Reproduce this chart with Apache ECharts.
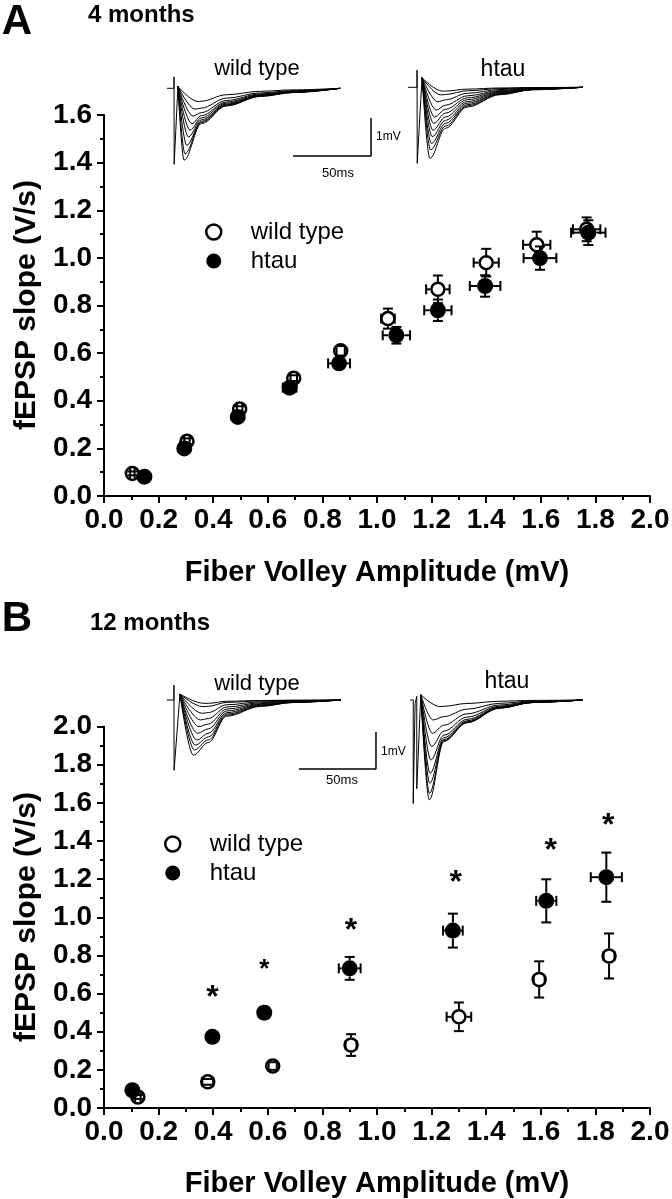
<!DOCTYPE html>
<html><head><meta charset="utf-8">
<script src="https://cdn.jsdelivr.net/npm/echarts@6/dist/echarts.min.js"></script>
<style>html,body{margin:0;padding:0;background:#fff}#c{width:672px;height:1199px}</style>
</head><body><div id="c"></div>
<script>
// ---------- tick labels ----------
const xTickLabels = ['0.0','0.2','0.4','0.6','0.8','1.0','1.2','1.4','1.6','1.8','2.0'];
const yTickLabelsA = ['0.0','0.2','0.4','0.6','0.8','1.0','1.2','1.4','1.6'];
const yTickLabelsB = ['0.0','0.2','0.4','0.6','0.8','1.0','1.2','1.4','1.6','1.8','2.0'];

// ---------- Panel A : 4 months ----------
const aWtX    = [0.104, 0.304, 0.497, 0.695, 0.867, 1.040, 1.223, 1.400, 1.585, 1.768];
const aWtY    = [0.095, 0.230, 0.365, 0.495, 0.610, 0.745, 0.868, 0.980, 1.055, 1.120];
const aWtXErr = [0.008, 0.010, 0.010, 0.012, 0.015, 0.025, 0.043, 0.046, 0.050, 0.050];
const aWtYErr = [0.008, 0.012, 0.012, 0.012, 0.020, 0.042, 0.058, 0.058, 0.055, 0.050];
const aHtX    = [0.148, 0.294, 0.490, 0.680, 0.861, 1.071, 1.223, 1.396, 1.597, 1.774];
const aHtY    = [0.081, 0.200, 0.332, 0.455, 0.557, 0.675, 0.780, 0.882, 0.999, 1.106];
const aHtXErr = [0.008, 0.010, 0.012, 0.025, 0.040, 0.050, 0.050, 0.056, 0.060, 0.063];
const aHtYErr = [0.008, 0.012, 0.015, 0.015, 0.020, 0.035, 0.045, 0.045, 0.049, 0.052];

// ---------- Panel B : 12 months ----------
const bWtX    = [0.124, 0.380, 0.618, 0.905, 1.300, 1.594, 1.850];
const bWtY    = [0.058, 0.137, 0.220, 0.330, 0.478, 0.674, 0.797];
const bWtXErr = [0.010, 0.020, 0.015, 0.020, 0.045, 0.020, 0.020];
const bWtYErr = [0.010, 0.015, 0.020, 0.057, 0.075, 0.095, 0.118];
const bHtX    = [0.104, 0.397, 0.587, 0.900, 1.278, 1.620, 1.840];
const bHtY    = [0.093, 0.373, 0.500, 0.732, 0.930, 1.086, 1.210];
const bHtXErr = [0.010, 0.015, 0.020, 0.040, 0.036, 0.037, 0.057];
const bHtYErr = [0.010, 0.020, 0.030, 0.060, 0.089, 0.113, 0.129];
const starX   = [0.397, 0.587, 0.905, 1.288, 1.636, 1.847];
const starY   = [0.618, 0.755, 0.968, 1.222, 1.390, 1.517];

// ---------- inset traces (time ms, voltage mV) ----------
// A wild type
const tA_wt_art   = [[0,0],[4.5,0],[4.5,0.3],[4.6,-2.0],[7,0.05]];
const tA_wt_amp   = [0.35, 0.55, 0.73, 0.93, 1.10, 1.28, 1.50, 1.72, 1.89];
const tA_wt_peakT = [19.9, 18.0, 16.7, 16.0, 14.7, 13.7, 12.6, 11.5, 10.9];
const tA_wt_late  = [0.34, 0.52, 0.64, 0.72, 0.78, 0.83, 0.87, 0.90, 0.93];
const tA_wt_tL = 22, tA_wt_decT = [0,16,38,59,89], tA_wt_decF = [1,0.5,0.23,0.12,0];
// A htau
const tA_ht_art   = [[0,0],[5.8,0],[5.8,0.45],[5.9,-2.0],[9,0.25]];
const tA_ht_amp   = [0.10, 0.20, 0.38, 0.60, 0.78, 0.95, 1.13, 1.30, 1.48, 1.65, 1.87];
const tA_ht_peakT = [22, 21, 19, 18, 17, 16.5, 16, 15.5, 15, 14.5, 14];
const tA_ht_late  = [0.10, 0.19, 0.33, 0.47, 0.58, 0.68, 0.78, 0.87, 0.95, 1.02, 1.08];
const tA_ht_tL = 24, tA_ht_decT = [0,14,35,56,88], tA_ht_decF = [1,0.48,0.18,0.06,0];
// B wild type
const tB_wt_art   = [[0,0],[4.7,0],[4.7,0.4],[4.8,-1.9],[8.6,0.16]];
const tB_wt_amp   = [0.09, 0.18, 0.36, 0.54, 0.72, 0.90, 1.08, 1.22, 1.35, 1.49];
const tB_wt_peakT = [24, 23.5, 23, 22, 21, 20, 19.5, 18.5, 18, 17.3];
const tB_wt_late  = [0.09, 0.17, 0.34, 0.50, 0.65, 0.78, 0.90, 1.00, 1.08, 1.15];
const tB_wt_tL = 27, tB_wt_decT = [0,12,34,55,86], tB_wt_decF = [1,0.38,0.15,0.06,0];
// B htau
const tB_ht_art   = [[0,0],[2.1,0],[2.1,-2.8],[3.3,-0.1],[4.4,0.1],[4.4,-2.4],[7,0.14]];
const tB_ht_amp   = [0.18, 0.54, 0.90, 1.26, 1.62, 1.98, 2.25, 2.52, 2.70];
const tB_ht_peakT = [19.5, 15, 14.5, 14, 13.5, 13, 12.8, 12.6, 12.5];
const tB_ht_late  = [0.17, 0.45, 0.68, 0.84, 0.95, 1.02, 1.07, 1.10, 1.12];
const tB_ht_tL = 22, tB_ht_decT = [0,15,36,58,90], tB_ht_decF = [1,0.55,0.2,0.06,0];
// scale bars (50 ms, 1 mV) in inset units
const scaleA = [[80.8,-1.78],[130.8,-1.78],[130.8,-0.78]];
const scaleB = [[85.9,-1.865],[135.9,-1.865],[135.9,-0.865]];

// ---------- build ----------
const FONT = '"Liberation Sans", Arial, Helvetica, sans-serif';
const zip4 = (a,b,c,d) => a.map((v,i)=>[v,b[i],c[i],d[i]]);
const zip2 = (a,b) => a.map((v,i)=>[v,b[i]]);

function errRender(r){
  return function(params, api){
    const x=api.value(0), y=api.value(1), ex=api.value(2), ey=api.value(3);
    const c=api.coord([x,y]);
    const top=api.coord([x,y+ey])[1], bot=api.coord([x,y-ey])[1];
    const lft=api.coord([x-ex,y])[0], rgt=api.coord([x+ex,y])[0];
    const cw=5, st={stroke:'#000',lineWidth:2}, ch=[];
    const seg=(x1,y1,x2,y2)=>ch.push({type:'line',shape:{x1,y1,x2,y2},style:st});
    if(c[1]-top>r) seg(c[0],c[1]-r,c[0],top);
    if(bot-c[1]>r) seg(c[0],c[1]+r,c[0],bot);
    seg(c[0]-cw,top,c[0]+cw,top); seg(c[0]-cw,bot,c[0]+cw,bot);
    if(c[0]-lft>r) seg(c[0]-r,c[1],lft,c[1]);
    if(rgt-c[0]>r) seg(c[0]+r,c[1],rgt,c[1]);
    seg(lft,c[1]-cw,lft,c[1]+cw); seg(rgt,c[1]-cw,rgt,c[1]+cw);
    return {type:'group',children:ch};
  };
}
function buildTraces(art, amp, peakT, late, tL, decT, decF){
  const start = art[art.length-1];
  return amp.map((a,i)=>{
    const pts=[start.slice(), [peakT[i], -a], [tL, -late[i]]];
    for(let k=1;k<decT.length;k++) pts.push([tL+decT[k], -late[i]*decF[k]]);
    return pts;
  });
}

const mainX = (gi) => ({
  type:'value', gridIndex:gi, min:0, max:2, interval:0.2,
  axisLine:{show:true, onZero:false, lineStyle:{color:'#000', width:2}},
  axisTick:{show:true, length:7, lineStyle:{color:'#000', width:2}},
  minorTick:{show:true, splitNumber:2, length:4, lineStyle:{color:'#000', width:2}},
  splitLine:{show:false},
  axisLabel:{color:'#000', fontSize:28, fontWeight:'bold', fontFamily:FONT, margin:10,
    formatter:(v)=>xTickLabels[Math.round(v/0.2)]}
});
const mainY = (gi, max, labels) => ({
  type:'value', gridIndex:gi, min:0, max:max, interval:0.2,
  axisLine:{show:true, onZero:false, lineStyle:{color:'#000', width:2}},
  axisTick:{show:true, length:7, lineStyle:{color:'#000', width:2}},
  minorTick:{show:true, splitNumber:2, length:4, lineStyle:{color:'#000', width:2}},
  splitLine:{show:false},
  axisLabel:{color:'#000', fontSize:28, fontWeight:'bold', fontFamily:FONT, margin:12,
    formatter:(v)=>labels[Math.round(v/0.2)]}
});
const insetX = (gi) => ({type:'value', gridIndex:gi, min:0, max:140, show:false});
const insetY = (gi, mn) => ({type:'value', gridIndex:gi, min:mn, max:0.5, show:false});

const OPEN = {color:'#fff', borderColor:'#000', borderWidth:2.5, opacity:1};
const FILLED = {color:'#000', opacity:1};
const series = [];
function addPanel(gi, wx, wy, wex, wey, hx, hy, hex, hey){
  series.push({name:'wild type', type:'scatter', xAxisIndex:gi, yAxisIndex:gi, z:2,
    symbol:'circle', symbolSize:13, itemStyle:OPEN, data:zip2(wx,wy), silent:true});
  series.push({name:'wt err', type:'custom', xAxisIndex:gi, yAxisIndex:gi, z:3,
    renderItem:errRender(7.5), encode:{x:0,y:1}, data:zip4(wx,wy,wex,wey), silent:true});
  series.push({name:'htau', type:'scatter', xAxisIndex:gi, yAxisIndex:gi, z:4,
    symbol:'circle', symbolSize:16, itemStyle:FILLED, data:zip2(hx,hy), silent:true});
  series.push({name:'htau err', type:'custom', xAxisIndex:gi, yAxisIndex:gi, z:5,
    renderItem:errRender(8), encode:{x:0,y:1}, data:zip4(hx,hy,hex,hey), silent:true});
}
addPanel(0, aWtX,aWtY,aWtXErr,aWtYErr, aHtX,aHtY,aHtXErr,aHtYErr);
addPanel(1, bWtX,bWtY,bWtXErr,bWtYErr, bHtX,bHtY,bHtXErr,bHtYErr);
series.push({name:'stars', type:'scatter', xAxisIndex:1, yAxisIndex:1, z:6, symbolSize:1,
  itemStyle:{color:'rgba(0,0,0,0)', opacity:1}, silent:true,
  label:{show:true, position:'inside', formatter:'*', color:'#000', fontSize:32, fontWeight:'bold',
    fontFamily:FONT, offset:[0,8]},
  data: zip2(starX,starY).map((p,i)=> i===1 ? {value:p, label:{fontSize:26, offset:[0,6]}} : p)});

const lineStyle = {color:'#000', width:1};
function addInset(gi, art, tr){
  series.push({type:'line', xAxisIndex:gi, yAxisIndex:gi, data:art, showSymbol:false, symbol:'none',
    lineStyle:lineStyle, silent:true, z:1});
  tr.forEach(d=>series.push({type:'line', xAxisIndex:gi, yAxisIndex:gi, data:d, showSymbol:false,
    symbol:'none', smooth:0.35, smoothMonotone:'x', lineStyle:lineStyle, silent:true, z:1}));
}
addInset(2, tA_wt_art, buildTraces(tA_wt_art,tA_wt_amp,tA_wt_peakT,tA_wt_late,tA_wt_tL,tA_wt_decT,tA_wt_decF));
addInset(3, tA_ht_art, buildTraces(tA_ht_art,tA_ht_amp,tA_ht_peakT,tA_ht_late,tA_ht_tL,tA_ht_decT,tA_ht_decF));
addInset(4, tB_wt_art, buildTraces(tB_wt_art,tB_wt_amp,tB_wt_peakT,tB_wt_late,tB_wt_tL,tB_wt_decT,tB_wt_decF));
addInset(5, tB_ht_art, buildTraces(tB_ht_art,tB_ht_amp,tB_ht_peakT,tB_ht_late,tB_ht_tL,tB_ht_decT,tB_ht_decF));
series.push({type:'line', xAxisIndex:2, yAxisIndex:2, data:scaleA, showSymbol:false, symbol:'none',
  lineStyle:{color:'#000', width:1.5}, silent:true});
series.push({type:'line', xAxisIndex:4, yAxisIndex:4, data:scaleB, showSymbol:false, symbol:'none',
  lineStyle:{color:'#000', width:1.5}, silent:true});

const txt = (x,y,text,font,align,extra) => Object.assign({type:'text', x:x, y:y, silent:true,
  style:{text:text, font:font, fill:'#000', textAlign:align||'left', textVerticalAlign:'middle'}}, extra||{});
const B = (s)=>'bold '+s+'px '+FONT, N = (s)=>s+'px '+FONT;

const legendCommon = {orient:'vertical', itemWidth:64, itemHeight:15, itemGap:5, icon:'circle',
  selectedMode:false, textStyle:{fontSize:24, fontFamily:FONT, color:'#000'},
  data:[{name:'wild type', itemStyle:{color:'#fff', borderColor:'#000', borderWidth:2.5, opacity:1}},
        {name:'htau', itemStyle:{color:'#000', borderWidth:0, opacity:1}}]};

const option = {
  animation:false,
  backgroundColor:'#fff',
  grid:[
    {left:104, top:115, width:546, height:381, outerBoundsMode:'none'},
    {left:104, top:726.5, width:546, height:381.5, outerBoundsMode:'none'},
    {left:167, top:69.3, width:218.4, height:110.2, outerBoundsMode:'none'},
    {left:408, top:68.3, width:218.4, height:110.2, outerBoundsMode:'none'},
    {left:166.7, top:681.5, width:215.6, height:129.5, outerBoundsMode:'none'},
    {left:410, top:681.5, width:215.6, height:129.5, outerBoundsMode:'none'}
  ],
  xAxis:[mainX(0), mainX(1), insetX(2), insetX(3), insetX(4), insetX(5)],
  yAxis:[mainY(0,1.6,yTickLabelsA), mainY(1,2.0,yTickLabelsB), insetY(2,-2.4), insetY(3,-2.4), insetY(4,-3), insetY(5,-3)],
  legend:[Object.assign({left:200, top:215}, legendCommon), Object.assign({left:159, top:827}, legendCommon)],
  series:series,
  graphic:[
    txt(17,22,'A',B(42),'center'),
    txt(88,15,'4 months',B(24)),
    txt(17,619,'B',B(42),'center'),
    txt(90,623,'12 months',B(24)),
    txt(257,69,'wild type',N(22),'center'),
    txt(503,70,'htau',N(23),'center'),
    txt(257,684,'wild type',N(22),'center'),
    txt(507,682,'htau',N(23),'center'),
    txt(376,137,'1mV',N(12)),
    txt(338,173,'50ms',N(13),'center'),
    txt(381,752,'1mV',N(12)),
    txt(342,780,'50ms',N(13),'center'),
    txt(27,305,'fEPSP slope (V/s)',B(30),'center',{rotation:Math.PI/2}),
    txt(27,917,'fEPSP slope (V/s)',B(30),'center',{rotation:Math.PI/2}),
    txt(377,573,'Fiber Volley Amplitude (mV)',B(29),'center'),
    txt(377,1184,'Fiber Volley Amplitude (mV)',B(29),'center')
  ]
};
const chart = echarts.init(document.getElementById('c'), null, {renderer:'canvas'});
chart.setOption(option);
</script></body></html>
